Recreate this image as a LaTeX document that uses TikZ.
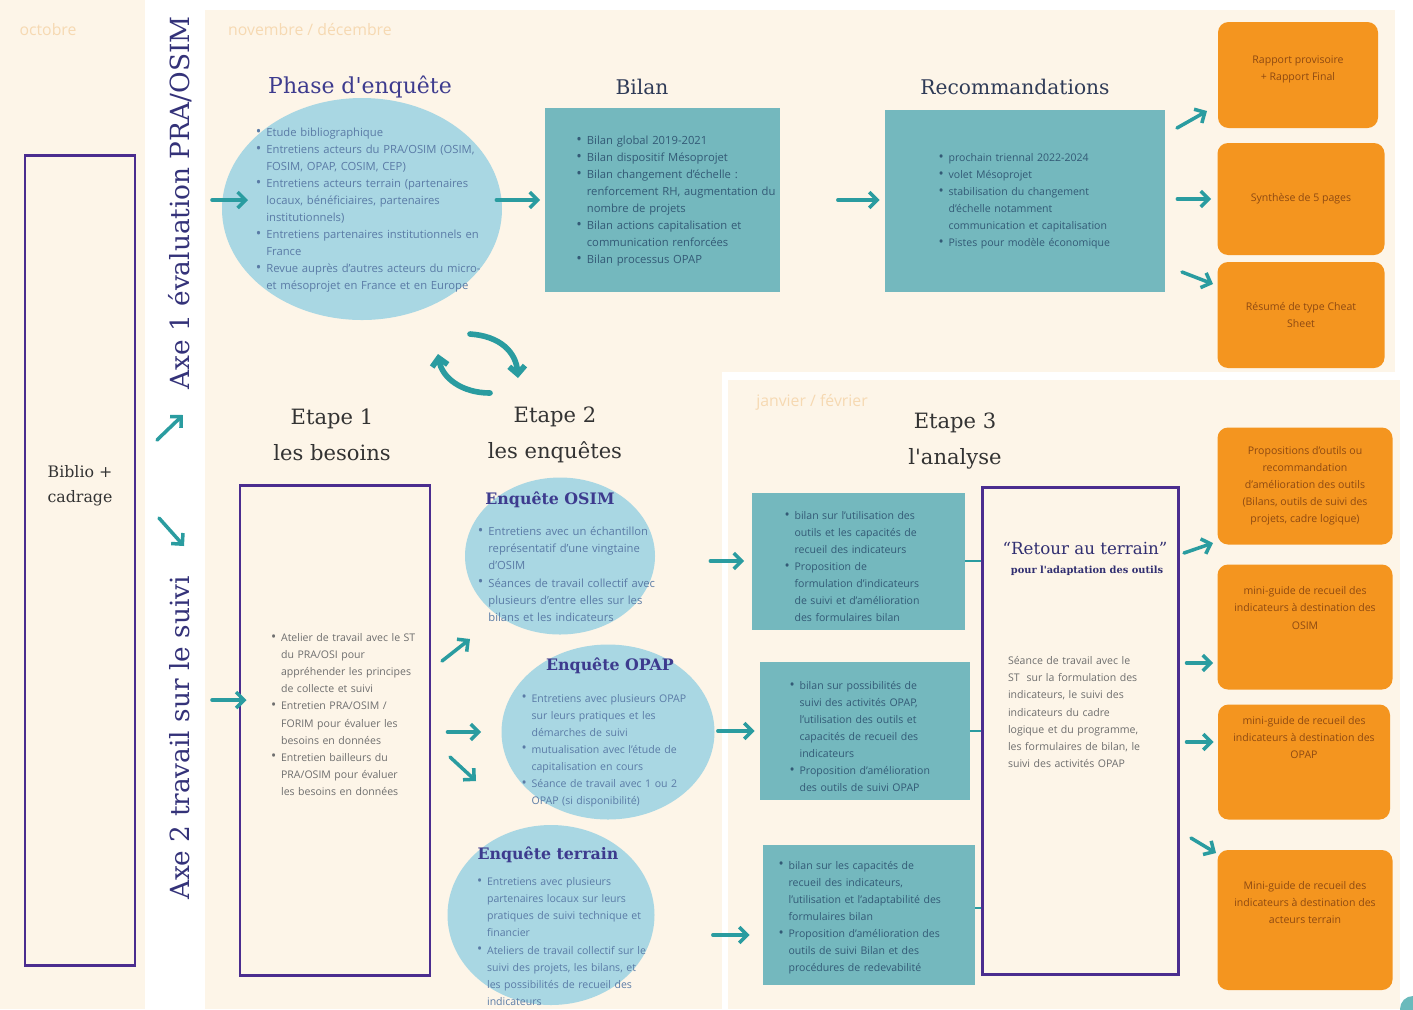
\documentclass[tikz,border=0pt]{standalone}
\usepackage{fontspec}
\setmainfont{Open Sans}
\newfontfamily\titleserif{DejaVu Serif}
\usepackage{enumitem}
\setlist[itemize]{nosep,leftmargin=1.1em,labelsep=0.45em,label=\raisebox{0.05ex}{\scalebox{1.3}{\textbullet}}}
\usetikzlibrary{shapes.geometric,arrows.meta}

\definecolor{cream}{HTML}{FDF5E8}
\definecolor{blob}{HTML}{A9D7E3}
\definecolor{tealfill}{HTML}{74B8BE}
\definecolor{tealarrow}{HTML}{2A9CA0}
\definecolor{orangefill}{HTML}{F4951F}
\definecolor{violet}{HTML}{4B2D8F}
\definecolor{indigo}{HTML}{3D3B8E}
\definecolor{navy}{HTML}{2F3B57}
\definecolor{monthtxt}{HTML}{F6D9B2}
\definecolor{bluetxt}{HTML}{5A7BA6}
\definecolor{greytxt}{HTML}{6E6E6E}
\definecolor{tealtxt}{HTML}{335A76}
\definecolor{orangetxt}{HTML}{8E4A12}

\def\px{0.02cm}

\begin{document}
\begin{tikzpicture}[x=0.02cm,y=-0.02cm,
    body/.style={font=\fontsize{6}{9.7}\selectfont, align=left, inner sep=0pt},
    bodybig/.style={body, font=\fontsize{6.4}{9.7}\selectfont},
    month/.style={font=\fontsize{9}{11}\selectfont, text=monthtxt},
    bigtitle/.style={font=\titleserif\fontsize{11.5}{14}\selectfont},
    etapetitle/.style={font=\titleserif\fontsize{12}{20.5}\selectfont, text=black!80, align=center},
    enqtitle/.style={font=\titleserif\bfseries\fontsize{9}{11}\selectfont, text=indigo},
    axe/.style={font=\titleserif\fontsize{15}{17}\selectfont, text=indigo!85!black, rotate=90},
    purplerect/.style={draw=violet, line width=1.7pt},
    tealrect/.style={fill=tealfill},
    orangerect/.style={fill=orangefill, rounded corners=6pt, text=orangetxt,
        font=\fontsize{6}{9.7}\selectfont, align=center},
    blobshape/.style={ellipse, fill=blob},
    arr/.style={draw=tealarrow, line width=2pt, line cap=round,
        -{Straight Barb[length=4.5pt,width=9pt]}},
    link/.style={draw=tealarrow, line width=1.6pt}
  ]
  \useasboundingbox (0,0) rectangle (1413,1009);
  \fill[white] (0,0) rectangle (1413,1009);

  % month panels
  \fill[cream] (0,0) rectangle (145,1009);
  \fill[cream] (205,10) rectangle (1395,372);
  \fill[cream] (205,372) rectangle (722,1009);
  \fill[cream] (728,380) rectangle (1400,1009);
  \fill[tealarrow!70] (1413,1009) circle (13);

  \node[month] (oct) at (48,30) {octobre};
  \node[month] (novdec) at (310,30) {novembre / décembre};
  \node[month] (janfev) at (812,402) {janvier / février};

  % Biblio + cadrage
  \node[purplerect, minimum width=110*\px, minimum height=810*\px] (biblio) at (80,560) {};
  \node[font=\titleserif\fontsize{9}{14}\selectfont, align=center, text=black!80] (bibliotxt) at (80,486) {Biblio +\\cadrage};

  \node[axe] (axe1) at (180,203) {Axe 1 évaluation PRA/OSIM};
  \node[axe] (axe2) at (180,738) {Axe 2 travail sur le suivi};

  \coordinate (ax1a) at (157,440);
  \coordinate (ax1b) at (183,415);
  \coordinate (ax2a) at (159,518);
  \coordinate (ax2b) at (184,546);
  \draw[arr] (ax1a) -- (ax1b);
  \draw[arr] (ax2a) -- (ax2b);

  % Phase d'enquete
  \node[blobshape, minimum width=280*\px, minimum height=222*\px] (phase) at (362,209) {};
  \node[bigtitle, font=\titleserif\fontsize{12.5}{14}\selectfont, text=indigo] (phasetitle) at (360,87) {Phase d'enquête};
  \node[bodybig, text=bluetxt, text width=260*\px] (phasetxt) at (384,206) {%
    \begin{itemize}
      \item Etude bibliographique
      \item Entretiens acteurs du PRA/OSIM (OSIM,\\FOSIM, OPAP, COSIM, CEP)
      \item Entretiens acteurs terrain (partenaires\\locaux, bénéficiaires, partenaires\\institutionnels)
      \item Entretiens partenaires institutionnels en\\France
      \item Revue auprès d'autres acteurs du micro-\\et mésoprojet en France et en Europe
    \end{itemize}};

  % Bilan
  \node[tealrect, minimum width=235*\px, minimum height=184*\px] (bilan) at (662,200) {};
  \node[bigtitle, text=navy] (bilantitle) at (642,87) {Bilan};
  \node[bodybig, text=tealtxt, text width=215*\px] (bilantxt) at (682,197) {%
    \begin{itemize}
      \item Bilan global 2019-2021
      \item Bilan dispositif Mésoprojet
      \item Bilan changement d'échelle :\\renforcement RH, augmentation du\\nombre de projets
      \item Bilan actions capitalisation et\\communication renforcées
      \item Bilan processus OPAP
    \end{itemize}};

  % Recommandations
  \node[tealrect, minimum width=280*\px, minimum height=182*\px] (recomm) at (1025,201) {};
  \node[bigtitle, text=navy] (recommtitle) at (1015,87) {Recommandations};
  \node[body, text=tealtxt, text width=200*\px] (recommtxt) at (1037,197) {%
    \begin{itemize}
      \item prochain triennal 2022-2024
      \item volet Mésoprojet
      \item stabilisation du changement\\d'échelle notamment\\communication et capitalisation
      \item Pistes pour modèle économique
    \end{itemize}};

  % livrables axe 1
  \node[orangerect, minimum width=160*\px, minimum height=106*\px] (rapport) at (1298,75) {Rapport provisoire\\+ Rapport Final\\[-2pt]};
  \node[orangerect, minimum width=167*\px, minimum height=112*\px] (synthese) at (1301,199) {Synthèse de 5 pages};
  \node[orangerect, minimum width=167*\px, minimum height=106*\px] (resume) at (1301,315) {Résumé de type Cheat\\Sheet};

  \coordinate (inA) at (212,200);
  \draw[arr] (inA) -- (inA -| 248,0);
  \draw[arr, shorten <=-6*\px, shorten >=4*\px] (phase.east |- bilan.west) -- (bilan.west);
  \draw[arr, shorten <=58*\px, shorten >=5*\px] (bilan.east) -- (bilan.east -| recomm.west);
  \coordinate (r1a) at (1177,128);
  \coordinate (r1b) at (1207,111);
  \draw[arr] (r1a) -- (r1b);
  \draw[arr, shorten <=12*\px, shorten >=6*\px] (recomm.east |- synthese.west) -- (synthese.west);
  \coordinate (r3a) at (1182,272);
  \coordinate (r3b) at (1213,284);
  \draw[arr] (r3a) -- (r3b);

  % cycle
  \coordinate (cy1a) at (470,334);
  \coordinate (cy1b) at (518,378);
  \coordinate (cy2a) at (490,393);
  \coordinate (cy2b) at (438,354);
  \draw[arr, line width=3.2pt] (cy1a) .. controls (500,336) and (516,352) .. (cy1b);
  \draw[arr, line width=3.2pt] (cy2a) .. controls (462,393) and (442,378) .. (cy2b);

  % Etapes
  \node[etapetitle] (etape1) at (332,435) {Etape 1\\les besoins};
  \node[etapetitle] (etape2) at (555,435) {Etape 2\\les enquêtes};
  \node[etapetitle] (etape3) at (955,441) {Etape 3\\l'analyse};

  % Etape 1
  \node[purplerect, minimum width=190*\px, minimum height=490*\px] (besoins) at (335,730) {};
  \node[body, text=greytxt, text width=165*\px] (besoinstxt) at (352,710) {%
    \begin{itemize}
      \item Atelier de travail avec le ST\\du PRA/OSI pour\\appréhender les principes\\de collecte et suivi
      \item Entretien PRA/OSIM /\\FORIM pour évaluer les\\besoins en données
      \item Entretien bailleurs du\\PRA/OSIM pour évaluer\\les besoins en données
    \end{itemize}};
  \coordinate (inB) at (212,700);
  \draw[arr, shorten >=-8*\px] (inB) -- (inB -| besoins.west);

  % Etape 2
  \node[blobshape, minimum width=190*\px, minimum height=157*\px] (osim) at (560,556) {};
  \node[enqtitle] (osimtitle) at (550,500) {Enquête OSIM};
  \node[bodybig, text=bluetxt, text width=200*\px] (osimtxt) at (576,570) {%
    \begin{itemize}
      \item Entretiens avec un échantillon\\représentatif d'une vingtaine\\d'OSIM
      \item Séances de travail collectif avec\\plusieurs d'entre elles sur les\\bilans et les indicateurs
    \end{itemize}};

  \node[blobshape, minimum width=213*\px, minimum height=175*\px] (opap) at (608,732) {};
  \node[enqtitle] (opaptitle) at (610,666) {Enquête OPAP};
  \node[body, text=bluetxt, text width=190*\px] (opaptxt) at (615,746) {%
    \begin{itemize}
      \item Entretiens avec plusieurs OPAP\\sur leurs pratiques et les\\démarches de suivi
      \item mutualisation avec l'étude de\\capitalisation en cours
      \item Séance de travail avec 1 ou 2\\OPAP (si disponibilité)
    \end{itemize}};

  \node[blobshape, minimum width=207*\px, minimum height=180*\px] (terrain) at (551,915) {};
  \node[enqtitle] (terraintitle) at (548,855) {Enquête terrain};
  \node[body, text=bluetxt, text width=185*\px] (terraintxt) at (568,937) {%
    \begin{itemize}
      \item Entretiens avec plusieurs\\partenaires locaux sur leurs\\pratiques de suivi technique et\\financier
      \item Ateliers de travail collectif sur le\\suivi des projets, les bilans, et\\les possibilités de recueil des\\indicateurs
    \end{itemize}};

  \coordinate (e1a) at (442,661);
  \coordinate (e1b) at (470,639);
  \coordinate (e3a) at (450,757);
  \coordinate (e3b) at (476,781);
  \draw[arr] (e1a) -- (e1b);
  \draw[arr, shorten <=16*\px, shorten >=20*\px] (besoins.east |- opap.west) -- (opap.west);
  \draw[arr] (e3a) -- (e3b);

  % Etape 3
  \node[tealrect, minimum width=213*\px, minimum height=137*\px] (analyse1) at (858,561) {};
  \node[body, text=tealtxt, text width=170*\px] (analyse1txt) at (868,562) {%
    \begin{itemize}
      \item bilan sur l'utilisation des\\outils et les capacités de\\recueil des indicateurs
      \item Proposition de\\formulation d'indicateurs\\de suivi et d'amélioration\\des formulaires bilan
    \end{itemize}};
  \node[tealrect, minimum width=210*\px, minimum height=138*\px] (analyse2) at (865,731) {};
  \node[body, text=tealtxt, text width=170*\px] (analyse2txt) at (873,732) {%
    \begin{itemize}
      \item bilan sur possibilités de\\suivi des activités OPAP,\\l'utilisation des outils et\\capacités de recueil des\\indicateurs
      \item Proposition d'amélioration\\des outils de suivi OPAP
    \end{itemize}};
  \node[tealrect, minimum width=212*\px, minimum height=140*\px] (analyse3) at (869,915) {};
  \node[body, text=tealtxt, text width=190*\px] (analyse3txt) at (872,913) {%
    \begin{itemize}
      \item bilan sur les capacités de\\recueil des indicateurs,\\l'utilisation et l'adaptabilité des\\formulaires bilan
      \item Proposition d'amélioration des\\outils de suivi Bilan et des\\procédures de redevabilité
    \end{itemize}};

  \draw[arr, shorten <=55*\px, shorten >=7*\px] (osim.east |- analyse1.west) -- (analyse1.west);
  \draw[arr, shorten <=3*\px, shorten >=5*\px] (opap.east |- analyse2.west) -- (analyse2.west);
  \draw[arr, shorten <=58*\px, shorten >=13*\px] (terrain.east |- 0,935) -- (analyse3.west |- 0,935);

  % Retour au terrain
  \node[purplerect, minimum width=196*\px, minimum height=487*\px] (retour) at (1080,731) {};
  \node[font=\titleserif\fontsize{9.5}{11}\selectfont, text=indigo!80!black] (retourtitle) at (1085,548) {“Retour au terrain”};
  \node[font=\titleserif\bfseries\fontsize{5.6}{7}\selectfont, text=indigo!80!black] (retoursub) at (1087,571) {pour l'adaptation des outils};
  \node[body, text=greytxt, text width=160*\px] (retourtxt) at (1088,712) {%
    Séance de travail avec le\\ST\ \ sur la formulation des\\indicateurs, le suivi des\\indicateurs du cadre\\logique et du programme,\\les formulaires de bilan, le\\suivi des activités OPAP};

  \draw[link] (analyse1.east) -- (analyse1.east -| retour.west);
  \draw[link] (analyse2.east) -- (analyse2.east -| retour.west);
  \draw[link] (analyse3.east |- 0,908) -- (retour.west |- 0,908);

  % livrables axe 2
  \node[orangerect, minimum width=175*\px, minimum height=117*\px] (outils) at (1305,486) {Propositions d'outils ou\\recommandation\\d'amélioration des outils\\(Bilans, outils de suivi des\\projets, cadre logique)};
  \node[orangerect, minimum width=175*\px, minimum height=125*\px] (guideosim) at (1305,627) {mini-guide de recueil des\\indicateurs à destination des\\OSIM\\[12pt]};
  \node[orangerect, minimum width=172*\px, minimum height=115*\px] (guideopap) at (1304,762) {mini-guide de recueil des\\indicateurs à destination des\\OPAP\\[18pt]};
  \node[orangerect, minimum width=175*\px, minimum height=140*\px] (guideterrain) at (1305,920) {Mini-guide de recueil des\\indicateurs à destination des\\acteurs terrain\\[10pt]};

  \coordinate (g1a) at (1184,553);
  \coordinate (g1b) at (1213,543);
  \coordinate (g4a) at (1191,838);
  \coordinate (g4b) at (1216,853);
  \draw[arr] (g1a) -- (g1b);
  \draw[arr, shorten <=7*\px, shorten >=4*\px] (retour.east |- 0,663) -- (guideosim.west |- 0,663);
  \draw[arr, shorten <=7*\px, shorten >=4*\px] (retour.east |- 0,742) -- (guideopap.west |- 0,742);
  \draw[arr] (g4a) -- (g4b);
\end{tikzpicture}
\end{document}
